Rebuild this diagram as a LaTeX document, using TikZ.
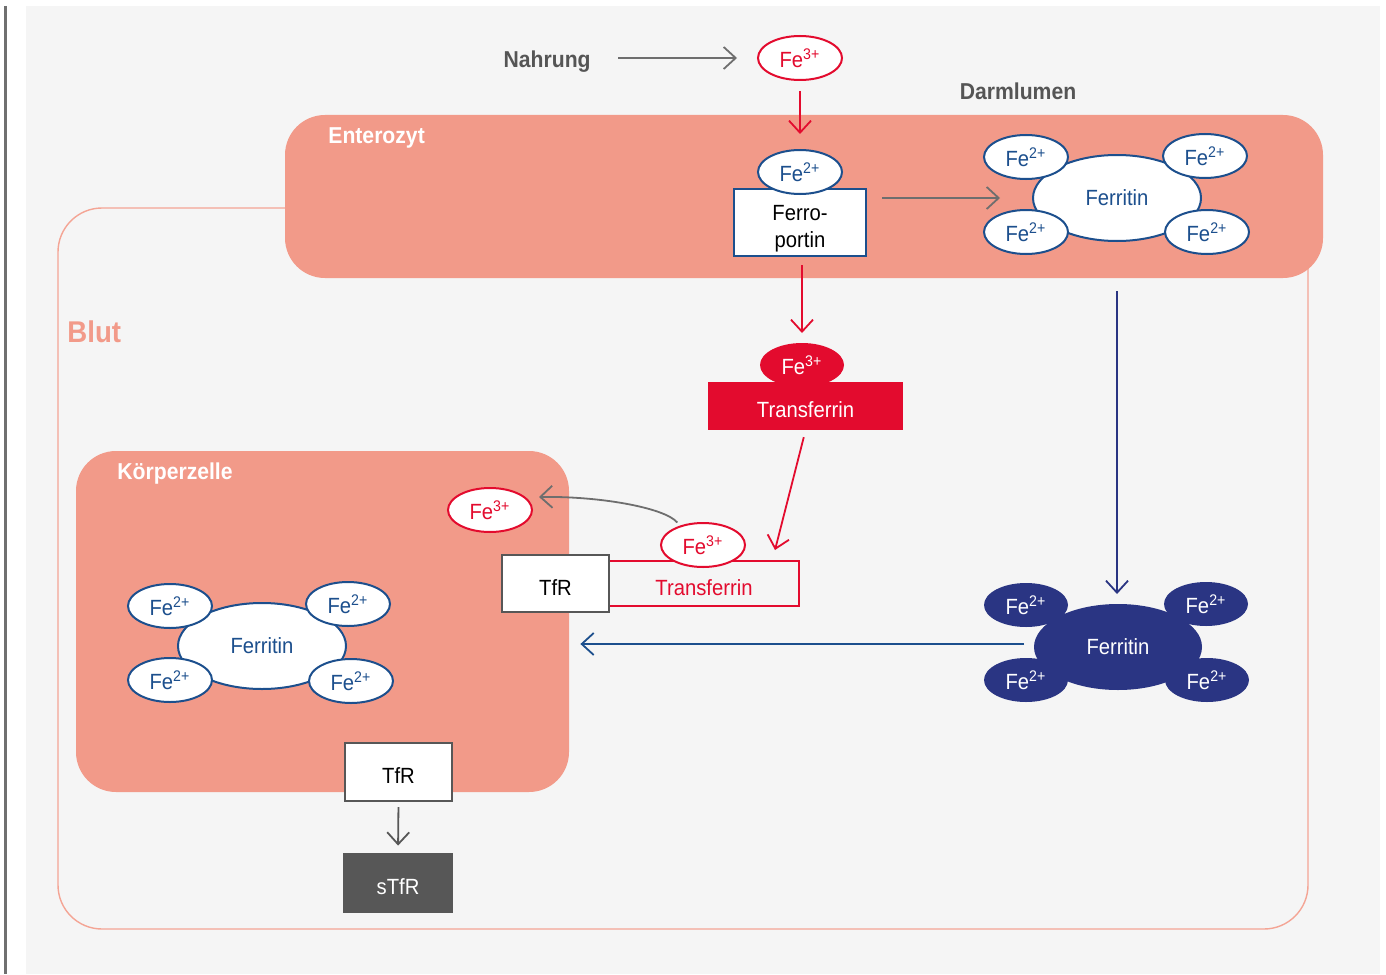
\documentclass[tikz,border=0pt]{standalone}
\usepackage{fontspec}
\setmainfont{Liberation Sans}[FakeStretch=0.92]
\usetikzlibrary{arrows.meta,calc,shapes.geometric}

\definecolor{bggray}{HTML}{F5F5F5}
\definecolor{sidegray}{HTML}{707070}
\definecolor{salmon}{HTML}{F29A89}
\definecolor{blutline}{HTML}{F4A595}
\definecolor{fered}{HTML}{E30B2E}
\definecolor{feblue}{HTML}{1C4F8D}
\definecolor{navy}{HTML}{2A3583}
\definecolor{arrowgray}{HTML}{6E6E6E}
\definecolor{textgray}{HTML}{555555}
\definecolor{boxgray}{HTML}{575757}

\newcommand\FeII{Fe\textsuperscript{2+}}
\newcommand\FeIII{Fe\textsuperscript{3+}}

\begin{document}
\begin{tikzpicture}[x=0.5pt,y=-0.5pt,>={Straight Barb[length=6pt,width=11pt]},
  font=\fontsize{11}{13.5}\selectfont,
  fe/.style={ellipse,inner sep=0pt,minimum width=42pt,minimum height=22pt,line width=1pt},
  fe2/.style={fe,draw=feblue,fill=white,text=feblue},
  fe2navy/.style={fe,fill=navy,text=white},
  fe3/.style={fe,draw=fered,fill=white,text=fered},
  fe3full/.style={fe,fill=fered,text=white},
  ferritin/.style={ellipse,inner sep=0pt,minimum width=84pt,minimum height=43pt,
    line width=1pt,draw=feblue,fill=white,text=feblue},
  ferritinnavy/.style={ferritin,draw=none,fill=navy,text=white},
  boxtext/.style={rectangle,inner sep=0pt,text depth=0pt,text height=11.5pt},
  protbox/.style={boxtext,line width=1pt,fill=white},
  cell/.style={rectangle,rounded corners=20pt,inner sep=0pt,fill=salmon},
  title/.style={font=\fontsize{11.5}{14}\selectfont\bfseries,inner sep=0pt,text depth=0pt},
  arr/.style={->,line width=0.9pt}]

  % Background and side bar
  \useasboundingbox (0,0) rectangle (1386,974);
  \fill[bggray] (26,6) rectangle (1380,974);
  \draw[sidegray,line width=1.5pt] (5,6) -- (5,974);

  % Blut
  \node[rectangle,rounded corners=22pt,draw=blutline,line width=0.7pt,
    minimum width=625pt,minimum height=360.5pt] (blut) at (683,568.5) {};
  \node[title,anchor=west,text=salmon,font=\fontsize{15}{18}\selectfont\bfseries] (blutlabel) at (67,332) {Blut};

  % Enterozyt
  \node[cell,minimum width=519pt,minimum height=81.5pt] (entero) at (804,196.5) {};
  \node[title,anchor=west,text=white] (enterolabel) at (328,136) {Enterozyt};

  % Koerperzelle
  \node[cell,minimum width=246.5pt,minimum height=170.5pt] (koerper) at (322.5,621.5) {};
  \node[title,anchor=west,text=white] (koerperlabel) at (117,471) {Körperzelle};

  % Nahrung and Darmlumen
  \node[title,anchor=east,text=textgray] (nahrung) at (591,59) {Nahrung};
  \node[title,text=textgray] (darm) at (1018,91) {Darmlumen};
  \node[fe3] (fe3a) at (800,58) {\FeIII};

  % Ferroportin
  \node[rectangle,inner sep=0pt,line width=1pt,fill=white,draw=feblue,minimum width=66pt,minimum height=33.5pt,
    label={[align=center,yshift=-3pt]center:Ferro-\\portin}] (ferro) at (800,222.5) {};
  \node[fe2] (fe2a) at (800,172) {\FeII};

  % Ferritin in the Enterozyt
  \node[ferritin] (fertop) at (1117,198) {Ferritin};
  \foreach \dx/\dy [count=\i] in {-91/-41,88/-42,-91/34,90/34}
    \node[fe2] (fertop-\i) at ($(fertop)+(\dx,\dy)$) {\FeII};

  % Transferrin in the blood
  \node[boxtext,fill=fered,text=white,minimum width=97.5pt,minimum height=24pt] (trf) at (805.5,406) {Transferrin};
  \node[fe3full] (fe3b) at (802,365) {\FeIII};

  % Transferrin at the receptor
  \node[boxtext,draw=fered,text=fered,line width=1pt,minimum width=95pt,minimum height=22.5pt] (trfout) at (704,583.5) {Transferrin};
  \node[protbox,draw=boxgray,minimum width=53.5pt,minimum height=28.5pt] (tfr) at (555.5,583.5) {TfR};
  \node[fe3] (fe3c) at (703,545) {\FeIII};
  \node[fe3] (fe3d) at (490,510) {\FeIII};

  % Ferritin in the Koerperzelle
  \node[ferritin] (ferleft) at (262,646) {Ferritin};
  \foreach \dx/\dy [count=\i] in {-92/-40,86/-42,-92/34,89/35}
    \node[fe2] (ferleft-\i) at ($(ferleft)+(\dx,\dy)$) {\FeII};

  % Ferritin in the blood
  \node[ferritinnavy] (ferbot) at (1118,647) {Ferritin};
  \foreach \dx/\dy [count=\i] in {-92/-42,88/-43,-92/33,89/33}
    \node[fe2navy] (ferbot-\i) at ($(ferbot)+(\dx,\dy)$) {\FeII};

  % TfR and sTfR
  \node[protbox,draw=boxgray,minimum width=53.5pt,minimum height=29pt] (tfrlow) at (398.5,772) {TfR};
  \node[boxtext,fill=boxgray,text=white,minimum width=55pt,minimum height=30pt] (stfr) at (398,883) {sTfR};

  % Arrows
  \draw[arr,arrowgray,shorten <=13.5pt,shorten >=10pt] (nahrung.east |- fe3a.west) -- (fe3a.west);
  \draw[arr,fered,shorten <=5pt,shorten >=7.5pt] (fe3a.south) -- (fe2a.north);
  \draw[arr,arrowgray,shorten <=7.5pt,shorten >=16pt] (ferro.east |- fertop.west) -- (fertop.west);
  \draw[arr,fered,shorten <=4pt,shorten >=4.5pt] (fe3b.north |- ferro.south) -- (fe3b.north);
  \draw[arr,fered,shorten <=3.5pt] (trf.south) -- ($(trfout.north east)+(-25,-10)$);
  \draw[arr,arrowgray,shorten <=2pt] (fe3c.140) .. controls +(-15,-18) and +(60,-1) .. ($(fe3d.east)+(6,-13)$);
  \draw[arr,navy,shorten <=24.5pt,shorten >=4.5pt] (fertop.south) -- (fertop.south |- ferbot.north);
  \draw[arr,feblue,shorten <=4.5pt,shorten >=5.5pt] ($(ferbot.west)+(0,-3)$) -- ($(koerper.east |- ferbot.west)+(0,-3)$);
  \draw[arr,boxgray,shorten <=2.5pt,shorten >=3.5pt] (tfrlow.south) -- (stfr.north);

\end{tikzpicture}
\end{document}
